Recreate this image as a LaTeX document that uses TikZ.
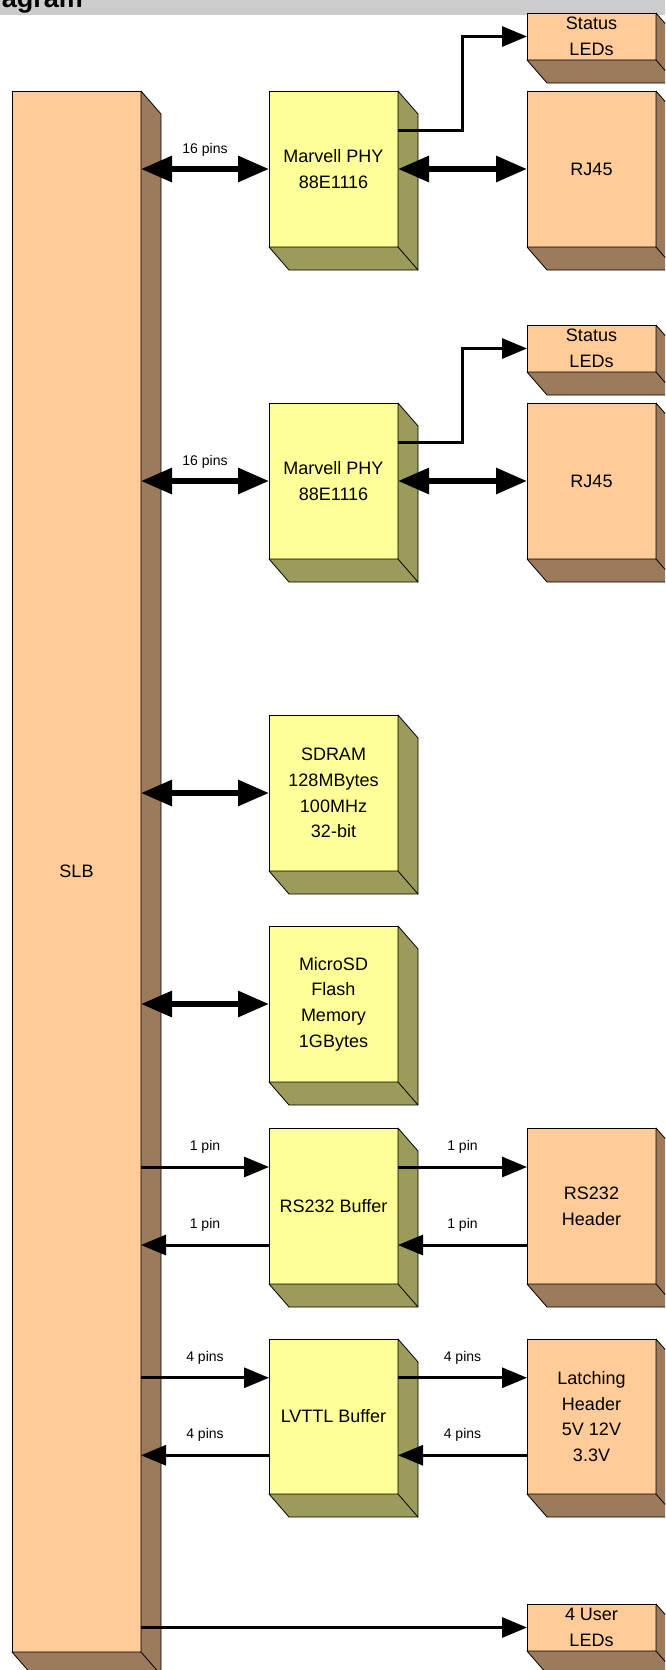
\documentclass[tikz,border=0pt]{standalone}
\usepackage{fontspec}
\setmainfont{Liberation Sans}
\usetikzlibrary{arrows.meta,calc}
\definecolor{peach}{HTML}{FFCC99}
\definecolor{brownside}{HTML}{9C7A5C}
\definecolor{paleyellow}{HTML}{FFFF99}
\definecolor{oliveside}{HTML}{9B9B5C}
\definecolor{titlegray}{HTML}{CCCCCC}
\begin{document}
\begin{tikzpicture}[x=1pt,y=-1pt,
  box/.style={rectangle, draw=black, line width=0.8pt, minimum width=129pt, inner sep=0pt, outer sep=0pt, align=center, font=\fontsize{18}{25.6}\selectfont},
  obox/.style={box, fill=peach},
  ybox/.style={box, fill=paleyellow},
  bus/.style={line width=6pt, {Triangle[length=31pt,width=25pt]}-{Triangle[length=31pt,width=25pt]}},
  sig/.style={line width=3pt, -{Triangle[length=25pt,width=20pt]}},
  pinlabel/.style={font=\fontsize{14}{16}\selectfont, inner sep=0pt},
  face/.style={line width=0.8pt, draw=black, line join=round},
]
\useasboundingbox (0,0) rectangle (665,1670);
\clip (0,0) rectangle (665,1670);

% title bar
\fill[titlegray] (0,0) rectangle (665,15);
\node[anchor=base east, font=\fontsize{27}{30}\selectfont\bfseries, inner sep=0pt] (title) at (83,8) {agram};

% boxes (front faces)
\node[obox, minimum height=1561pt] (SLB) at (76.5,871.5) {SLB};

\node[ybox, minimum height=156pt] (PHY1) at (333.5,169) {Marvell PHY\\88E1116};
\node[obox, minimum height=156pt] (RJ1) at (591.5,169) {RJ45};
\node[obox, minimum height=47pt] (ST1) at (591.5,36.5) {Status\\LEDs};

\node[ybox, minimum height=156pt] (PHY2) at (333.5,481) {Marvell PHY\\88E1116};
\node[obox, minimum height=156pt] (RJ2) at (591.5,481) {RJ45};
\node[obox, minimum height=47pt] (ST2) at (591.5,348.5) {Status\\LEDs};

\node[ybox, minimum height=156pt] (SDRAM) at (333.5,793) {SDRAM\\128MBytes\\100MHz\\32-bit};
\node[ybox, minimum height=156pt] (USD) at (333.5,1004) {MicroSD\\Flash\\Memory\\1GBytes};

\node[ybox, minimum height=156pt] (RSB) at (333.5,1206) {RS232 Buffer};
\node[obox, minimum height=156pt] (RSH) at (591.5,1206) {RS232\\Header};

\node[ybox, minimum height=155pt] (LVB) at (333.5,1416.5) {LVTTL Buffer};
\node[obox, minimum height=155pt] (LVH) at (591.5,1416.5) {Latching\\Header\\5V 12V\\3.3V};

\node[obox, minimum height=47pt] (ULED) at (591.5,1627.5) {4 User\\LEDs};

% 3D side and bottom faces
\foreach \n/\c in {SLB/brownside, PHY1/oliveside, RJ1/brownside, ST1/brownside,
  PHY2/oliveside, RJ2/brownside, ST2/brownside, SDRAM/oliveside, USD/oliveside,
  RSB/oliveside, RSH/brownside, LVB/oliveside, LVH/brownside, ULED/brownside} {
  \filldraw[face, fill=\c]
    (\n.north east) -- ([shift={(20,23)}]\n.north east) -- ([shift={(20,23)}]\n.south east)
    -- ([shift={(20,23)}]\n.south west) -- (\n.south west) -- (\n.south east) -- cycle;
  \draw[face] (\n.south east) -- ([shift={(20,23)}]\n.south east);
}

% Ethernet 1
\draw[bus] (PHY1.west -| SLB.east) -- (PHY1.west) node[midway, pinlabel, yshift=19pt] {16 pins};
\draw[bus] (PHY1.east) -- (RJ1.west);
\coordinate (p1s) at ($(PHY1.north east)!0.25!(PHY1.south east)$);
\draw[sig] (p1s) -- ++(64,0) |- (ST1.west);

% Ethernet 2
\draw[bus] (PHY2.west -| SLB.east) -- (PHY2.west) node[midway, pinlabel, yshift=19pt] {16 pins};
\draw[bus] (PHY2.east) -- (RJ2.west);
\coordinate (p2s) at ($(PHY2.north east)!0.25!(PHY2.south east)$);
\draw[sig] (p2s) -- ++(64,0) |- (ST2.west);

% memory
\draw[bus] (SDRAM.west -| SLB.east) -- (SDRAM.west);
\draw[bus] (USD.west -| SLB.east) -- (USD.west);

% RS232
\coordinate (rsa) at ($(RSB.north west)!0.25!(RSB.south west)$);
\coordinate (rsb) at ($(RSB.north west)!0.75!(RSB.south west)$);
\coordinate (rsc) at ($(RSB.north east)!0.25!(RSB.south east)$);
\coordinate (rsd) at ($(RSB.north east)!0.75!(RSB.south east)$);
\draw[sig] (rsa -| SLB.east) -- (rsa) node[midway, pinlabel, yshift=20pt] {1 pin};
\draw[sig] (rsb) -- (rsb -| SLB.east) node[midway, pinlabel, yshift=20pt] {1 pin};
\draw[sig] (rsc) -- (rsc -| RSH.west) node[midway, pinlabel, yshift=20pt] {1 pin};
\draw[sig] (rsd -| RSH.west) -- (rsd) node[midway, pinlabel, yshift=20pt] {1 pin};

% LVTTL
\coordinate (lva) at ($(LVB.north west)!0.25!(LVB.south west)$);
\coordinate (lvb) at ($(LVB.north west)!0.75!(LVB.south west)$);
\coordinate (lvc) at ($(LVB.north east)!0.25!(LVB.south east)$);
\coordinate (lvd) at ($(LVB.north east)!0.75!(LVB.south east)$);
\draw[sig] (lva -| SLB.east) -- (lva) node[midway, pinlabel, yshift=20pt] {4 pins};
\draw[sig] (lvb) -- (lvb -| SLB.east) node[midway, pinlabel, yshift=20pt] {4 pins};
\draw[sig] (lvc) -- (lvc -| LVH.west) node[midway, pinlabel, yshift=20pt] {4 pins};
\draw[sig] (lvd -| LVH.west) -- (lvd) node[midway, pinlabel, yshift=20pt] {4 pins};

% user LEDs
\draw[sig] (ULED.west -| SLB.east) -- (ULED.west);
\end{tikzpicture}
\end{document}
